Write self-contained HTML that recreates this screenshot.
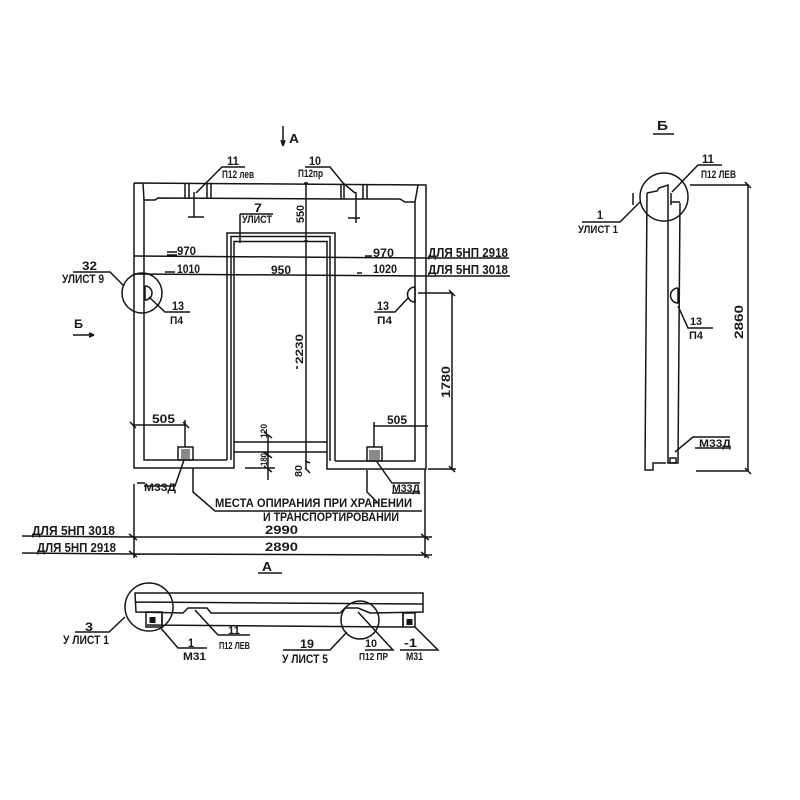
<!DOCTYPE html>
<html><head><meta charset="utf-8"><style>
html,body{margin:0;padding:0;background:#fff}
svg{display:block;filter:blur(0.35px)}
text{font-family:"Liberation Sans",sans-serif;font-weight:bold;fill:#1a1a1a;stroke:none}
</style></head><body>
<svg width="800" height="800" viewBox="0 0 800 800" xmlns="http://www.w3.org/2000/svg">
<g fill="none" stroke="#151515" stroke-width="1.5">
<!-- main panel -->
<path d="M134 183L426 185V469H327V461M134 183V468H234V460"/>
<path d="M143 183L144 200V460H227M144 200H155L158 198L343 199L400 199L405 202H415L418 185M415 202V461H335"/>
<path d="M185 183V199M189 183V199M207 183V199M211 183V199M341 184V199M344 184V199M363 184V199M367 184V199"/>
<!-- door -->
<path d="M227 460V233H335V461M231 460V236.500H330V461M234 460V241.500H327V461M234 442H327M234 452H327"/>
<!-- anchors top -->
<path d="M194 192V217M188 217H204M196 193L222 167H245M356 192V223M348 218H360M355 193L343 183L330 167H305M240 214H273M240 214V243"/>
<!-- centre dim -->
<path d="M306 183V469M304 183H308M304 241H308M305 461L310 463M305 468L310 473M297 366V369"/>
<!-- dims -->
<path d="M134 256L426 258M134 274L426 276M167 252H177M167 255H177M165 272H175M365 256H372M357 273H362"/>
<path d="M426 258H509M426 276H510"/>
<!-- small vertical dims -->
<path d="M268 435V480M245 468H275M264 432L272 438M264 452L272 458M264 466L272 472"/>
<!-- circle left -->
<circle cx="142" cy="293" r="20"/>
<path d="M145 286A7 7 0 0 1 145 300V286M149 297L165 312H190M124 286L110 272H73"/>
<!-- right P4 -->
<path d="M415 287A7.500 7.500 0 0 0 415 302V287M408 298L395 312H374M418 293H452V470M428 469H456M449 290L455 296M449 466L455 472"/>
<!-- 505 dims -->
<path d="M132 425H185M185 420V447M374 422V447M374 426H428M130 422L136 428M183 422L189 428"/>
<rect x="178" y="447" width="15" height="13"/>
<rect x="367" y="447" width="15" height="14"/>
<g stroke-width="1"><path d="M181 450H190M181 452H190M181 454H190M181 456H190M181 458H190M369 451H380M369 453H380M369 455H380M369 457H380M369 459H380"/></g>
<path d="M184 460L175 486H144M137 483H145M377 462L392 483H420M392 493H420"/>
<!-- bottom leader -->
<path d="M193 468V492L215 511H422M367 470V492L377 502M134 484V558M425 469V558"/>
<!-- long dims -->
<path d="M22 536L134 537L432 537M22 553L134 554L432 555M129 534L137 540M129 551L137 557M421 534L429 540M421 552L429 558"/>
<!-- arrows -->
<path d="M283 126V146M283 146L281 140M283 146L285 140M73 335H94M94 335L89 333M94 335L89 337M258 573H282"/>
<!-- bottom view -->
<path d="M135 593L423 593V612L370 613L358 608H345L340 613H211L207 608H188L183 613L136 612ZM135 602L423 604M147 625L403 627M162 612V625M403 613V627"/>
<rect x="146" y="612" width="16" height="15"/>
<rect x="403" y="613" width="12" height="14"/>
<path stroke-width="6" d="M152.500 617V623M409.500 619V625"/>
<circle cx="149" cy="607" r="24"/>
<circle cx="360" cy="620" r="19"/>
<path d="M75 632H109L125 617M160 627L178 648H207M195 610L218 635H250M347 632L330 650H283M358 612L393 650H365M415 627L438 650H400"/>
<!-- side view -->
<path d="M647 193L645 470H653V463H666M647 193L657 191L659 188L668 185V463M671 202H680M680 203L678 463H667M671 193V205"/>
<circle cx="664" cy="197" r="24"/>
<path d="M582 222H620L640 202M633 193V205M672 192L698 165H722M690 185H748V471H696M745 182L751 188M745 468L751 474"/>
<path d="M678 288A7.500 7.500 0 0 0 678 303V288M678 306L688 328H713M675 452L693 437H730M695 448H730"/>
<rect x="670" y="458" width="6" height="5"/>
<path d="M653 134H674"/>
</g>
<g>
<text x="227" y="165" font-size="12" textLength="12" lengthAdjust="spacingAndGlyphs">11</text>
<text x="222" y="178" font-size="11" textLength="32" lengthAdjust="spacingAndGlyphs">П12 лев</text>
<text x="309" y="165" font-size="12" textLength="12" lengthAdjust="spacingAndGlyphs">10</text>
<text x="298" y="177" font-size="11" textLength="25" lengthAdjust="spacingAndGlyphs">П12пр</text>
<text x="254" y="212" font-size="12" textLength="8" lengthAdjust="spacingAndGlyphs">7</text>
<text x="242" y="223" font-size="11" textLength="30" lengthAdjust="spacingAndGlyphs">УЛИСТ</text>
<text x="289" y="143" font-size="13" textLength="10" lengthAdjust="spacingAndGlyphs">А</text>
<text transform="translate(304,223) rotate(-90)" font-size="11" textLength="18" lengthAdjust="spacingAndGlyphs">550</text>
<text x="177" y="255" font-size="12" textLength="19" lengthAdjust="spacingAndGlyphs">970</text>
<text x="177" y="273" font-size="12" textLength="23" lengthAdjust="spacingAndGlyphs">1010</text>
<text x="373" y="257" font-size="12" textLength="21" lengthAdjust="spacingAndGlyphs">970</text>
<text x="373" y="273" font-size="12" textLength="24" lengthAdjust="spacingAndGlyphs">1020</text>
<text x="271" y="274" font-size="12" textLength="20" lengthAdjust="spacingAndGlyphs">950</text>
<text x="428" y="257" font-size="13" textLength="80" lengthAdjust="spacingAndGlyphs">ДЛЯ 5НП 2918</text>
<text x="428" y="274" font-size="13" textLength="80" lengthAdjust="spacingAndGlyphs">ДЛЯ 5НП 3018</text>
<text x="82" y="270" font-size="12" textLength="15" lengthAdjust="spacingAndGlyphs">32</text>
<text x="62" y="283" font-size="12" textLength="42" lengthAdjust="spacingAndGlyphs">УЛИСТ 9</text>
<text x="172" y="310" font-size="12" textLength="12" lengthAdjust="spacingAndGlyphs">13</text>
<text x="170" y="324" font-size="11" textLength="13" lengthAdjust="spacingAndGlyphs">П4</text>
<text x="377" y="310" font-size="12" textLength="12" lengthAdjust="spacingAndGlyphs">13</text>
<text x="377" y="324" font-size="11" textLength="15" lengthAdjust="spacingAndGlyphs">П4</text>
<text x="74" y="328" font-size="12" textLength="9" lengthAdjust="spacingAndGlyphs">Б</text>
<text transform="translate(303,364) rotate(-90)" font-size="11" textLength="30" lengthAdjust="spacingAndGlyphs">2230</text>
<text transform="translate(450,398) rotate(-90)" font-size="12" textLength="32" lengthAdjust="spacingAndGlyphs">1780</text>
<text x="152" y="423" font-size="12" textLength="23" lengthAdjust="spacingAndGlyphs">505</text>
<text x="387" y="424" font-size="12" textLength="20" lengthAdjust="spacingAndGlyphs">505</text>
<text transform="translate(267,438) rotate(-90)" font-size="9" textLength="14" lengthAdjust="spacingAndGlyphs">120</text>
<text transform="translate(267,466) rotate(-90)" font-size="9" textLength="13" lengthAdjust="spacingAndGlyphs">180</text>
<text transform="translate(302,477) rotate(-90)" font-size="10" textLength="12" lengthAdjust="spacingAndGlyphs">80</text>
<text x="144" y="491" font-size="11" textLength="32" lengthAdjust="spacingAndGlyphs">М33Д</text>
<text x="392" y="492" font-size="11" textLength="28" lengthAdjust="spacingAndGlyphs">М33Д</text>
<text x="215" y="507" font-size="12" textLength="197" lengthAdjust="spacingAndGlyphs">МЕСТА ОПИРАНИЯ ПРИ ХРАНЕНИИ</text>
<text x="263" y="521" font-size="11.500" textLength="136" lengthAdjust="spacingAndGlyphs">И ТРАНСПОРТИРОВАНИИ</text>
<text x="32" y="535" font-size="13" textLength="83" lengthAdjust="spacingAndGlyphs">ДЛЯ 5НП 3018</text>
<text x="37" y="552" font-size="13" textLength="79" lengthAdjust="spacingAndGlyphs">ДЛЯ 5НП 2918</text>
<text x="265" y="534" font-size="12" textLength="33" lengthAdjust="spacingAndGlyphs">2990</text>
<text x="265" y="551" font-size="12" textLength="33" lengthAdjust="spacingAndGlyphs">2890</text>
<text x="262" y="571" font-size="13" textLength="10" lengthAdjust="spacingAndGlyphs">А</text>
<text x="85" y="631" font-size="12" textLength="8" lengthAdjust="spacingAndGlyphs">3</text>
<text x="63" y="644" font-size="12" textLength="46" lengthAdjust="spacingAndGlyphs">У ЛИСТ 1</text>
<text x="188" y="647" font-size="12" textLength="6" lengthAdjust="spacingAndGlyphs">1</text>
<text x="183" y="660" font-size="11" textLength="23" lengthAdjust="spacingAndGlyphs">М31</text>
<text x="228" y="634" font-size="11" textLength="12" lengthAdjust="spacingAndGlyphs">11</text>
<text x="219" y="649" font-size="10" textLength="31" lengthAdjust="spacingAndGlyphs">П12 ЛЕВ</text>
<text x="300" y="648" font-size="12" textLength="14" lengthAdjust="spacingAndGlyphs">19</text>
<text x="282" y="663" font-size="12" textLength="46" lengthAdjust="spacingAndGlyphs">У ЛИСТ 5</text>
<text x="365" y="647" font-size="11" textLength="12" lengthAdjust="spacingAndGlyphs">10</text>
<text x="359" y="660" font-size="10" textLength="29" lengthAdjust="spacingAndGlyphs">П12 ПР</text>
<text x="404" y="647" font-size="12" textLength="13" lengthAdjust="spacingAndGlyphs">-1</text>
<text x="406" y="660" font-size="11" textLength="17" lengthAdjust="spacingAndGlyphs">М31</text>
<text x="657" y="130" font-size="13" textLength="11" lengthAdjust="spacingAndGlyphs">Б</text>
<text x="702" y="163" font-size="12" textLength="12" lengthAdjust="spacingAndGlyphs">11</text>
<text x="701" y="178" font-size="11" textLength="35" lengthAdjust="spacingAndGlyphs">П12 ЛЕВ</text>
<text x="597" y="219" font-size="12" textLength="6" lengthAdjust="spacingAndGlyphs">1</text>
<text x="578" y="233" font-size="11" textLength="40" lengthAdjust="spacingAndGlyphs">УЛИСТ 1</text>
<text x="690" y="325" font-size="11" textLength="12" lengthAdjust="spacingAndGlyphs">13</text>
<text x="689" y="339" font-size="11" textLength="14" lengthAdjust="spacingAndGlyphs">П4</text>
<text transform="translate(743,339) rotate(-90)" font-size="12" textLength="34" lengthAdjust="spacingAndGlyphs">2860</text>
<text x="699" y="447" font-size="11" textLength="32" lengthAdjust="spacingAndGlyphs">М33Д</text>
</g>
</svg>
</body></html>
